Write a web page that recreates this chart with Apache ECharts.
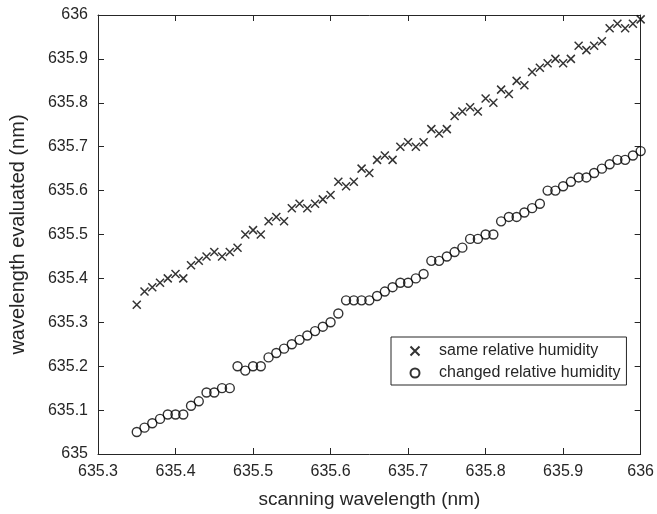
<!DOCTYPE html>
<html>
<head>
<meta charset="utf-8">
<style>
  html, body { margin: 0; padding: 0; background: #fff; }
  #chart { width: 657px; height: 514px; }
</style>
<script src="https://cdn.jsdelivr.net/npm/echarts@6/dist/echarts.min.js"></script>
</head>
<body>
<div id="chart"></div>
<script>
// scanning wavelength (nm)
var scanning = [
  635.35, 635.36, 635.37, 635.38, 635.39, 635.40, 635.41, 635.42, 635.43, 635.44,
  635.45, 635.46, 635.47, 635.48, 635.49, 635.50, 635.51, 635.52, 635.53, 635.54,
  635.55, 635.56, 635.57, 635.58, 635.59, 635.60, 635.61, 635.62, 635.63, 635.64,
  635.65, 635.66, 635.67, 635.68, 635.69, 635.70, 635.71, 635.72, 635.73, 635.74,
  635.75, 635.76, 635.77, 635.78, 635.79, 635.80, 635.81, 635.82, 635.83, 635.84,
  635.85, 635.86, 635.87, 635.88, 635.89, 635.90, 635.91, 635.92, 635.93, 635.94,
  635.95, 635.96, 635.97, 635.98, 635.99, 636.00
]
// evaluated wavelength, same relative humidity
var sameHumidity = [
  635.34, 635.37, 635.38, 635.39, 635.40, 635.41, 635.40, 635.43, 635.44, 635.45,
  635.46, 635.45, 635.46, 635.47, 635.50, 635.51, 635.50, 635.53, 635.54, 635.53,
  635.56, 635.57, 635.56, 635.57, 635.58, 635.59, 635.62, 635.61, 635.62, 635.65,
  635.64, 635.67, 635.68, 635.67, 635.70, 635.71, 635.70, 635.71, 635.74, 635.73,
  635.74, 635.77, 635.78, 635.79, 635.78, 635.81, 635.80, 635.83, 635.82, 635.85,
  635.84, 635.87, 635.88, 635.89, 635.90, 635.89, 635.90, 635.93, 635.92, 635.93,
  635.94, 635.97, 635.98, 635.97, 635.98, 635.99
]
// evaluated wavelength, changed relative humidity
var changedHumidity = [
  635.05, 635.06, 635.07, 635.08, 635.09, 635.09, 635.09, 635.11, 635.12, 635.14,
  635.14, 635.15, 635.15, 635.20, 635.19, 635.20, 635.20, 635.22, 635.23, 635.24,
  635.25, 635.26, 635.27, 635.28, 635.29, 635.30, 635.32, 635.35, 635.35, 635.35,
  635.35, 635.36, 635.37, 635.38, 635.39, 635.39, 635.40, 635.41, 635.44, 635.44,
  635.45, 635.46, 635.47, 635.49, 635.49, 635.50, 635.50, 635.53, 635.54, 635.54,
  635.55, 635.56, 635.57, 635.60, 635.60, 635.61, 635.62, 635.63, 635.63, 635.64,
  635.65, 635.66, 635.67, 635.67, 635.68, 635.69
]
var seriesNames = ['same relative humidity', 'changed relative humidity']

var textColor = '#262626'
var fontFamily = '"Liberation Sans", Arial, sans-serif'

function pairs(ys) {
  var out = []
  for (var i = 0; i < scanning.length; i++) {
    out.push([scanning[i], ys[i]])
  }
  return out
}

function tickFmt(v) {
  return String(+v.toFixed(1))
}

var chart = echarts.init(document.getElementById('chart'))

var boxAxis = {
  axisLine: { show: true, onZero: false, lineStyle: { color: textColor, width: 1 } },
  axisTick: { show: true, inside: true, length: 6, lineStyle: { color: textColor } },
  splitLine: { show: false }
}

chart.setOption({
  animation: false,
  backgroundColor: '#fff',
  textStyle: { fontFamily: fontFamily, color: textColor },
  grid: { left: 88, top: 15, width: 557, height: 439 },
  legend: {
    orient: 'vertical',
    left: 391,
    top: 337,
    padding: [6, 6, 4, 17],
    itemWidth: 38,
    itemHeight: 9,
    itemGap: 6,
    borderColor: textColor,
    borderWidth: 1,
    backgroundColor: '#fff',
    textStyle: { fontSize: 16, color: textColor, fontFamily: fontFamily, lineHeight: 16 },
    data: seriesNames
  },
  xAxis: [
    Object.assign({
      type: 'value',
      min: 635.3,
      max: 636,
      interval: 0.1,
      name: 'scanning wavelength (nm)',
      nameLocation: 'middle',
      nameGap: 36,
      nameTextStyle: { fontSize: 19, color: textColor, fontFamily: fontFamily },
      axisLabel: { fontSize: 16, color: textColor, margin: 10, formatter: tickFmt }
    }, boxAxis),
    Object.assign({
      type: 'value',
      position: 'top',
      min: 635.3,
      max: 636,
      interval: 0.1,
      axisLabel: { show: false }
    }, boxAxis)
  ],
  yAxis: [
    Object.assign({
      type: 'value',
      min: 635,
      max: 636,
      interval: 0.1,
      name: 'wavelength evaluated (nm)',
      nameLocation: 'middle',
      nameGap: 70,
      nameTextStyle: { fontSize: 20, color: textColor, fontFamily: fontFamily },
      axisLabel: { fontSize: 16, color: textColor, margin: 10, formatter: tickFmt }
    }, boxAxis),
    Object.assign({
      type: 'value',
      position: 'right',
      min: 635,
      max: 636,
      interval: 0.1,
      axisLabel: { show: false }
    }, boxAxis)
  ],
  series: [
    {
      name: seriesNames[0],
      type: 'scatter',
      symbol: 'path://M0,0L10,10M10,0L0,10',
      symbolSize: 8,
      itemStyle: { color: 'none', borderColor: '#000', borderWidth: 1.5 },
      data: pairs(sameHumidity)
    },
    {
      name: seriesNames[1],
      type: 'scatter',
      symbol: 'circle',
      symbolSize: 9,
      itemStyle: { color: 'rgba(0,0,0,0)', borderColor: '#000', borderWidth: 1.4 },
      data: pairs(changedHumidity)
    }
  ]
})
</script>
</body>
</html>
